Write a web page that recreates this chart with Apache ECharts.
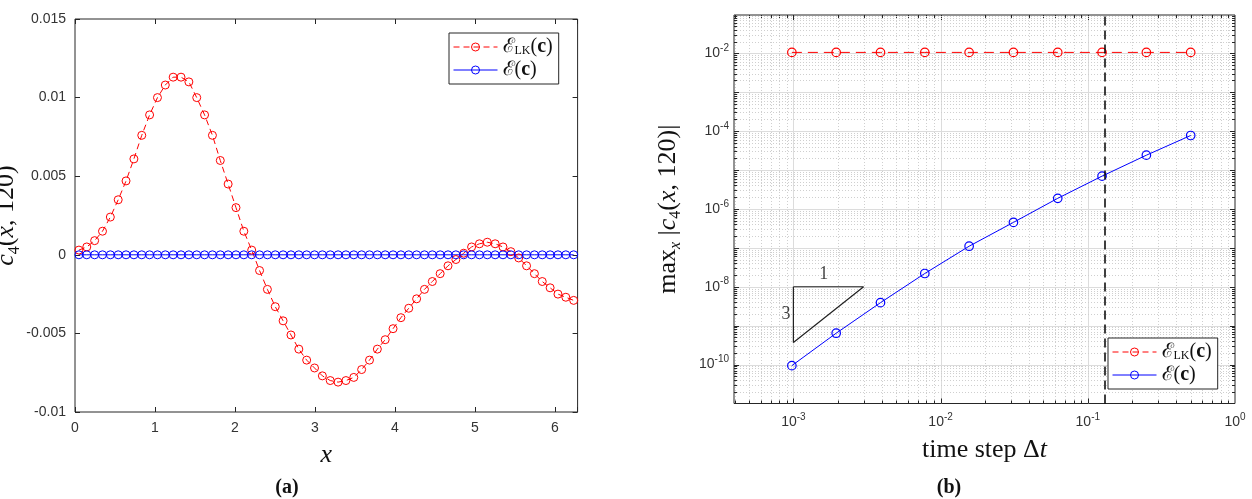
<!DOCTYPE html>
<html>
<head>
<meta charset="utf-8">
<script src="https://cdn.jsdelivr.net/npm/echarts@6/dist/echarts.min.js"></script>
<style>
  html, body { margin: 0; padding: 0; background: #fff; }
  #chart { width: 1252px; height: 499px; }
</style>
</head>
<body>
<div id="chart"></div>
<script>
// (a) profile c4(x, 120) at the 64 cell centres of [0, 2pi]
const nCells = 64
const xCells = Array.from({ length: nCells }, (_, i) => (i + 0.5) * 2 * Math.PI / nCells)
const c4LK = [
  0.0003, 0.0005, 0.0009, 0.0015, 0.0024, 0.0035, 0.0047, 0.0061,
  0.0076, 0.0089, 0.0100, 0.0108, 0.0113, 0.0113, 0.0110, 0.0100,
  0.0089, 0.0076, 0.0060, 0.0045, 0.0030, 0.0015, 0.0003, -0.0010,
  -0.0022, -0.0033, -0.0042, -0.0051, -0.0060, -0.0067, -0.0072, -0.0077,
  -0.0080, -0.0081, -0.0080, -0.0078, -0.0073, -0.0067, -0.0060, -0.0054,
  -0.0047, -0.0040, -0.0034, -0.0028, -0.0022, -0.0017, -0.0012, -0.0007,
  -0.0003, 0.0001, 0.0005, 0.0007, 0.0008, 0.0007, 0.0005, 0.0002,
  -0.0002, -0.0007, -0.0012, -0.0017, -0.0021, -0.0025, -0.0027, -0.0029
]
const c4E = [
  0, 0, 0, 0, 0, 0, 0, 0, 0, 0, 0, 0, 0, 0, 0, 0,
  0, 0, 0, 0, 0, 0, 0, 0, 0, 0, 0, 0, 0, 0, 0, 0,
  0, 0, 0, 0, 0, 0, 0, 0, 0, 0, 0, 0, 0, 0, 0, 0,
  0, 0, 0, 0, 0, 0, 0, 0, 0, 0, 0, 0, 0, 0, 0, 0
]
const xTicksA = [0, 1, 2, 3, 4, 5, 6]

// (b) max error against time step
const dt = [0.0009765625, 0.001953125, 0.00390625, 0.0078125, 0.015625, 0.03125, 0.0625, 0.125, 0.25, 0.5]
const errLK = [0.0105, 0.0105, 0.0105, 0.0105, 0.0105, 0.0105, 0.0105, 0.0105, 0.0105, 0.0105]
const errE = [9.4e-11, 6.4e-10, 3.9e-9, 2.19e-8, 1.1e-7, 4.5e-7, 1.87e-6, 6.95e-6, 2.4e-5, 7.7e-5]
const dtLimit = 0.125
const slopeX = [1e-3, 3e-3, 1e-3, 1e-3]
const slopeY = [1e-8, 1e-8, 3.7e-10, 1e-8]
const slopeLabelX = [1.61e-3, 1e-3]
const slopeLabelY = [1e-8, 1.94e-9]
const slopeLabelText = ['1', '3']
const xExpB = [-3, -2, -1, 0]
const yExpB = [-10, -8, -6, -4, -2]
const xLimB = [3.95e-4, 1]
const yLimB = [1e-11, 0.096]

const sans = 'Liberation Sans, Arial, sans-serif'
const serif = 'Liberation Serif, DejaVu Serif, serif'
const ink = '#262626'
const red = '#ff0000'
const blue = '#0000ff'

const mathRich = {
  n: { fontFamily: serif, fontSize: 26, lineHeight: 32, color: '#111' },
  i: { fontFamily: serif, fontSize: 26, lineHeight: 32, fontStyle: 'italic', color: '#111' },
  s: { fontFamily: serif, fontSize: 16, lineHeight: 20, verticalAlign: 'bottom', color: '#111' },
  si: { fontFamily: serif, fontSize: 16, lineHeight: 20, verticalAlign: 'bottom', fontStyle: 'italic', color: '#111' }
}
const legendRich = {
  e: { fontFamily: serif, fontSize: 20, lineHeight: 20, color: '#111' },
  s: { fontFamily: serif, fontSize: 12, lineHeight: 10, verticalAlign: 'bottom', color: '#111' },
  b: { fontFamily: serif, fontSize: 20, lineHeight: 20, fontWeight: 'bold', color: '#111' }
}
const tickRich = {
  b: { fontFamily: sans, fontSize: 14, lineHeight: 20, color: '#333' },
  s: { fontFamily: sans, fontSize: 10, lineHeight: 10, verticalAlign: 'top', color: '#333' }
}

const supLabel = exps => v => {
  const lg = Math.log10(v)
  const e = Math.round(lg)
  if (Math.abs(lg - e) > 1e-6 || !exps.includes(e)) return ''
  return '{b|10}{s|' + e + '}'
}

// log grid lines and ticks for panel (b)
const logSteps = lim => {
  const out = []
  for (let e = Math.floor(Math.log10(lim[0])); e <= Math.ceil(Math.log10(lim[1])); e++) {
    for (let m = 1; m <= 9; m++) {
      const v = m * Math.pow(10, e)
      if (v > lim[0] * 1.0001 && v < lim[1] * 0.9999) out.push([v, m === 1])
    }
  }
  return out
}

const renderLogFrame = (params, api) => {
  const [left, bottom] = api.coord([xLimB[0], yLimB[0]])
  const [right, top] = api.coord([xLimB[1], yLimB[1]])
  const kids = []
  const seg = (x1, y1, x2, y2, style) => kids.push({ type: 'line', shape: { x1, y1, x2, y2 }, style })
  const major = { stroke: '#dcdcdc', lineWidth: 1 }
  const minor = { stroke: '#cfcfcf', lineWidth: 1, lineDash: [1, 2] }
  const tick = { stroke: ink, lineWidth: 1 }
  logSteps(xLimB).forEach(([v, isMajor]) => {
    const x = Math.round(api.coord([v, yLimB[0]])[0]) + 0.5
    const len = isMajor ? 5 : 3
    seg(x, top, x, bottom, isMajor ? major : minor)
    seg(x, bottom, x, bottom - len, tick)
    seg(x, top, x, top + len, tick)
  })
  logSteps(yLimB).forEach(([v, isMajor]) => {
    const y = Math.round(api.coord([xLimB[0], v])[1]) + 0.5
    const len = isMajor ? 5 : 3
    seg(left, y, right, y, isMajor ? major : minor)
    seg(left, y, left + len, y, tick)
    seg(right, y, right - len, y, tick)
  })
  return { type: 'group', children: kids }
}

const legendName = name => name === 'ELK'
  ? '{e|ℰ}{s|LK}{e|(}{b|c}{e|)}'
  : '{e|ℰ(}{b|c}{e|)}'

const legendBase = {
  orient: 'vertical',
  data: ['ELK', 'E'],
  itemWidth: 44,
  itemHeight: 10,
  itemGap: 3,
  padding: [4, 6, 4, 4],
  borderColor: ink,
  borderWidth: 1,
  backgroundColor: '#fff',
  selectedMode: false,
  formatter: legendName,
  itemStyle: { borderWidth: 1 },
  lineStyle: { width: 1 },
  textStyle: { rich: legendRich }
}

const chart = echarts.init(document.getElementById('chart'), null, { renderer: 'canvas' })

const option = {
  animation: false,
  backgroundColor: '#fff',
  grid: [
    { left: 75, top: 19, width: 502.6, height: 393, show: true, borderColor: ink, borderWidth: 1, backgroundColor: 'transparent', containLabel: false, outerBoundsMode: 'none' },
    { left: 734, top: 15, width: 501, height: 388.5, show: true, borderColor: ink, borderWidth: 1, backgroundColor: 'transparent', containLabel: false, outerBoundsMode: 'none' }
  ],
  legend: [
    Object.assign({ left: 449, top: 33 }, legendBase),
    Object.assign({ left: 1108, top: 338 }, legendBase)
  ],
  xAxis: [
    {
      gridIndex: 0, type: 'value', min: 0, max: 2 * Math.PI, interval: 1,
      axisLine: { show: false, onZero: false },
      axisTick: { inside: true, length: 5, lineStyle: { color: ink } },
      splitLine: { show: false },
      axisLabel: {
        margin: 9, color: '#333', fontFamily: sans, fontSize: 14,
        formatter: v => xTicksA.some(t => Math.abs(t - v) < 1e-9) ? String(Math.round(v)) : ''
      },
      name: '{i|x}', nameLocation: 'middle', nameGap: 27,
      nameTextStyle: { rich: mathRich }
    },
    {
      gridIndex: 0, type: 'value', position: 'top', min: 0, max: 2 * Math.PI, interval: 1,
      axisLine: { show: false, onZero: false },
      axisTick: { inside: true, length: 5, lineStyle: { color: ink } },
      axisLabel: { show: false },
      splitLine: { show: false }
    },
    {
      gridIndex: 1, type: 'log', logBase: 10, min: xLimB[0], max: xLimB[1],
      axisLine: { show: false, onZero: false },
      axisTick: { show: false },
      splitLine: { show: false },
      axisLabel: { margin: 9, formatter: supLabel(xExpB), rich: tickRich },
      name: '{n|time step Δ}{i|t}', nameLocation: 'middle', nameGap: 31,
      nameTextStyle: { rich: mathRich }
    }
  ],
  yAxis: [
    {
      gridIndex: 0, type: 'value', min: -0.01, max: 0.015, interval: 0.005,
      axisLine: { show: false, onZero: false },
      axisTick: { inside: true, length: 5, lineStyle: { color: ink } },
      splitLine: { show: false },
      axisLabel: { margin: 9, color: '#333', fontFamily: sans, fontSize: 14 },
      name: '{i|c}{s|4}{n|(}{i|x}{n|, 120)}', nameLocation: 'middle', nameRotate: 90, nameGap: 45,
      nameTextStyle: { rich: mathRich }
    },
    {
      gridIndex: 0, type: 'value', position: 'right', min: -0.01, max: 0.015, interval: 0.005,
      axisLine: { show: false, onZero: false },
      axisTick: { inside: true, length: 5, lineStyle: { color: ink } },
      axisLabel: { show: false },
      splitLine: { show: false }
    },
    {
      gridIndex: 1, type: 'log', logBase: 10, min: yLimB[0], max: yLimB[1],
      axisLine: { show: false, onZero: false },
      axisTick: { show: false },
      splitLine: { show: false },
      axisLabel: { margin: 5, formatter: supLabel(yExpB), rich: tickRich },
      name: '{n|max}{si|x}{n| |}{i|c}{s|4}{n|(}{i|x}{n|, 120)|}', nameLocation: 'middle', nameRotate: 90, nameGap: 50,
      nameTextStyle: { rich: mathRich }
    }
  ],
  series: [
    {
      name: 'ELK', type: 'line', xAxisIndex: 0, yAxisIndex: 0,
      data: xCells.map((x, i) => [x, c4LK[i]]),
      symbol: 'circle', symbolSize: 8,
      lineStyle: { color: red, width: 1, type: [6, 4] },
      itemStyle: { color: 'rgba(0,0,0,0)', borderColor: red, borderWidth: 1 },
      emphasis: { disabled: true }
    },
    {
      name: 'E', type: 'line', xAxisIndex: 0, yAxisIndex: 0,
      data: xCells.map((x, i) => [x, c4E[i]]),
      symbol: 'circle', symbolSize: 8,
      lineStyle: { color: blue, width: 1 },
      itemStyle: { color: 'rgba(0,0,0,0)', borderColor: blue, borderWidth: 1 },
      emphasis: { disabled: true }
    },
    {
      type: 'custom', xAxisIndex: 2, yAxisIndex: 2, silent: true, clip: false,
      data: [[0.01, 1e-5]],
      renderItem: renderLogFrame
    },
    {
      type: 'line', xAxisIndex: 2, yAxisIndex: 2, silent: true,
      data: slopeX.map((x, i) => [x, slopeY[i]]),
      symbol: 'none',
      lineStyle: { color: '#222', width: 1.2 }
    },
    {
      type: 'scatter', xAxisIndex: 2, yAxisIndex: 2, silent: true,
      data: slopeLabelX.map((x, i) => ({
        value: [x, slopeLabelY[i]],
        label: { position: i === 0 ? 'top' : 'left' }
      })),
      symbolSize: 0,
      label: {
        show: true, distance: 3, fontFamily: serif, fontSize: 18, color: '#111',
        formatter: p => slopeLabelText[p.dataIndex]
      }
    },
    {
      name: 'ELK', type: 'line', xAxisIndex: 2, yAxisIndex: 2,
      data: dt.map((d, i) => [d, errLK[i]]),
      symbol: 'circle', symbolSize: 8.5,
      lineStyle: { color: red, width: 1, type: [10, 6] },
      itemStyle: { color: 'rgba(0,0,0,0)', borderColor: red, borderWidth: 1.2 },
      emphasis: { disabled: true },
      markLine: {
        silent: true, symbol: 'none', label: { show: false },
        lineStyle: { color: '#000', width: 1.5, type: [9, 5] },
        data: [{ xAxis: dtLimit }]
      }
    },
    {
      name: 'E', type: 'line', xAxisIndex: 2, yAxisIndex: 2,
      data: dt.map((d, i) => [d, errE[i]]),
      symbol: 'circle', symbolSize: 8.5,
      lineStyle: { color: blue, width: 1 },
      itemStyle: { color: 'rgba(0,0,0,0)', borderColor: blue, borderWidth: 1.2 },
      emphasis: { disabled: true }
    }
  ],
  graphic: [
    { type: 'text', x: 287, y: 488, style: { text: '(a)', font: 'bold 20px ' + serif, fill: '#111', align: 'center', verticalAlign: 'middle', textAlign: 'center', textVerticalAlign: 'middle' } },
    { type: 'text', x: 949, y: 488, style: { text: '(b)', font: 'bold 20px ' + serif, fill: '#111', align: 'center', verticalAlign: 'middle', textAlign: 'center', textVerticalAlign: 'middle' } }
  ]
}

chart.setOption(option)
</script>
</body>
</html>
